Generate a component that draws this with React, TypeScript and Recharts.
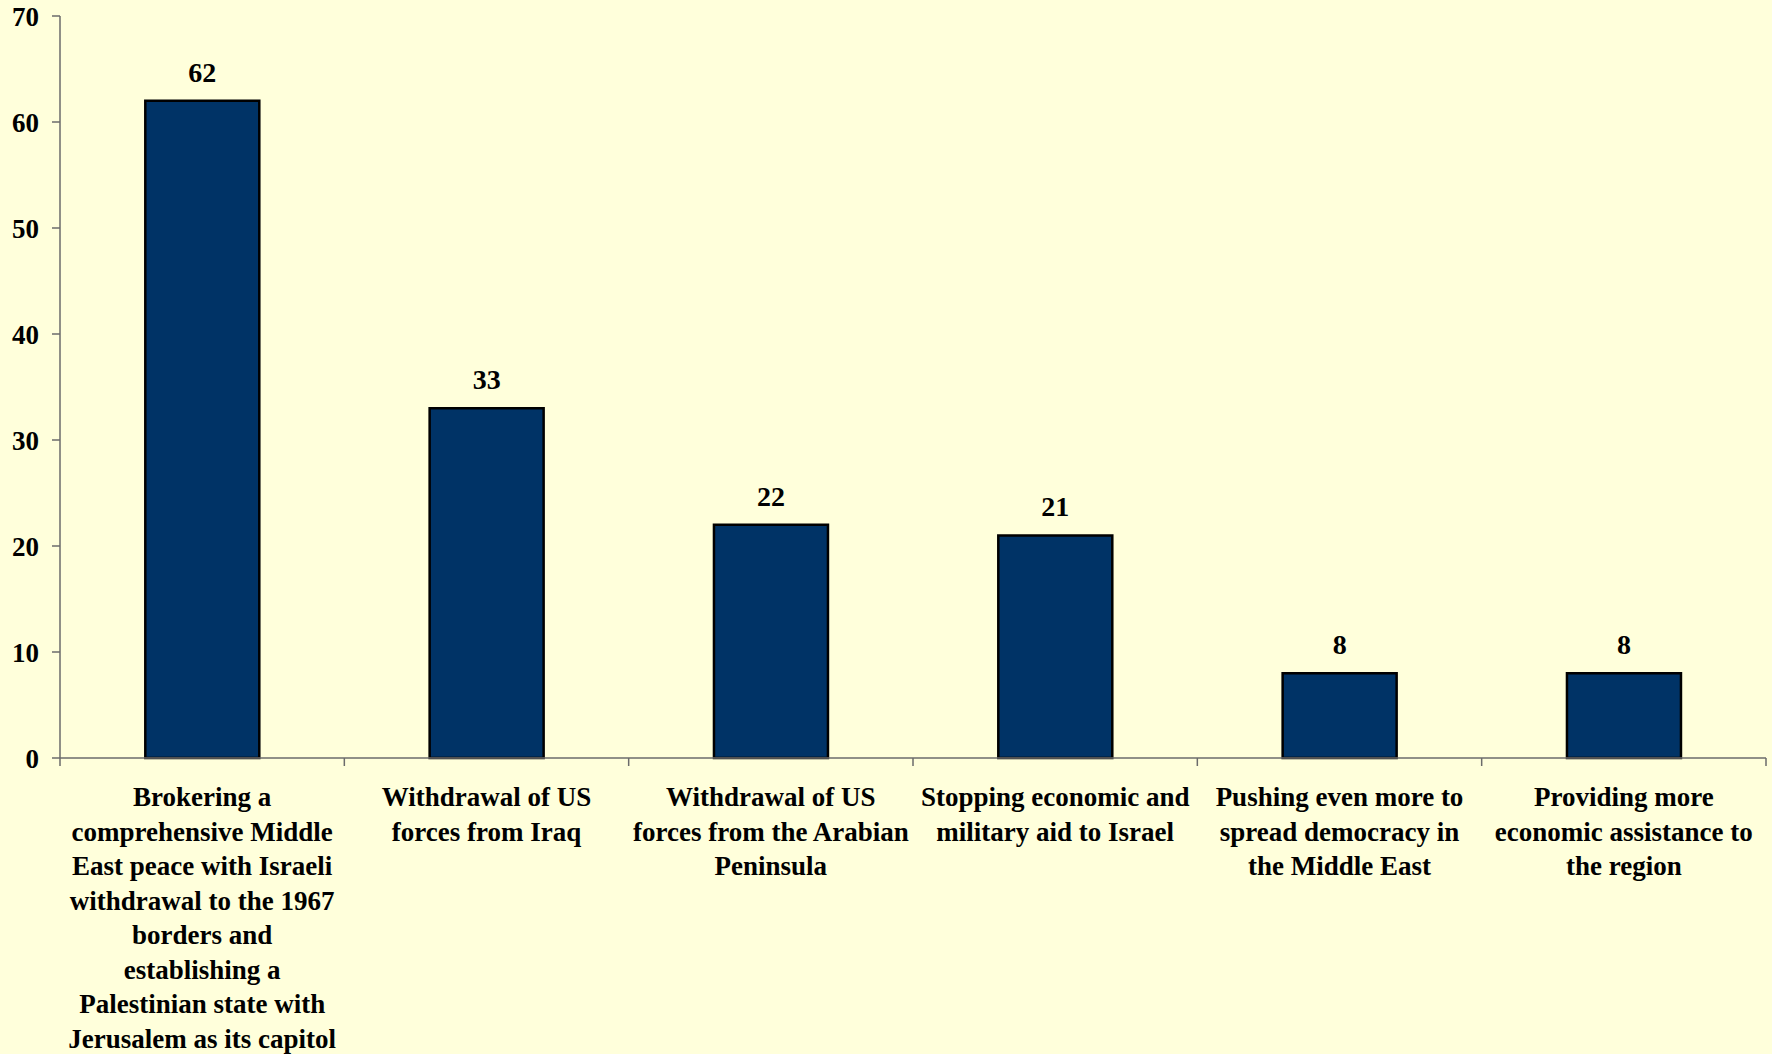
import React from 'react';
import { BarChart, Bar, XAxis, YAxis, LabelList } from 'recharts';

// categories (line breaks as in the original chart)
const categories = [
  'Brokering a\ncomprehensive Middle\nEast peace with Israeli\nwithdrawal to the 1967\nborders and\nestablishing a\nPalestinian state with\nJerusalem as its capitol',
  'Withdrawal of US\nforces from Iraq',
  'Withdrawal of US\nforces from the Arabian\nPeninsula',
  'Stopping economic and\nmilitary aid to Israel',
  'Pushing even more to\nspread democracy in\nthe Middle East',
  'Providing more\neconomic assistance to\nthe region',
];
const values = [62, 33, 22, 21, 8, 8];
const yTicks = [0, 10, 20, 30, 40, 50, 60, 70];

const FONT = '"Liberation Serif", "Times New Roman", serif';
const AXIS = '#6b6b6b';

const data = categories.map((name, i) => ({ name, value: values[i] }));

const CategoryTick = (props: any) => {
  const { x, y, payload, index } = props;
  const lines: string[] = String(payload.value).split('\n');
  const half = payload.offset || 0;
  const top = y - 8;
  return (
    <g>
      <line x1={x - half} x2={x - half} y1={top} y2={top + 8} stroke={AXIS} strokeWidth={1.5} />
      {index === categories.length - 1 && (
        <line x1={x + half} x2={x + half} y1={top} y2={top + 8} stroke={AXIS} strokeWidth={1.5} />
      )}
      <text
        x={x}
        y={y}
        textAnchor="middle"
        fontFamily={FONT}
        fontWeight="bold"
        fontSize={27}
        fill="#000"
      >
        {lines.map((l, i) => (
          <tspan key={i} x={x} dy={i === 0 ? 40 : 34.5}>
            {l}
          </tspan>
        ))}
      </text>
    </g>
  );
};

export default function App() {
  return (
    <div style={{ position: 'absolute', left: 0, top: 0, width: 1772, height: 1054, background: '#FFFFDB' }}>
      <BarChart
        width={1772}
        height={1054}
        data={data}
        margin={{ top: 16, right: 6, left: 0, bottom: 0 }}
        barCategoryGap="30%"
      >
        <XAxis
          dataKey="name"
          interval={0}
          height={296}
          tickSize={8}
          tickMargin={0}
          tickLine={{ stroke: 'none' }}
          axisLine={{ stroke: AXIS, strokeWidth: 1.5 }}
          tick={<CategoryTick />}
        />
        <YAxis
          width={60}
          domain={[0, 70]}
          ticks={yTicks}
          interval={0}
          tickSize={8}
          tickMargin={13}
          axisLine={{ stroke: AXIS, strokeWidth: 1.5 }}
          tickLine={{ stroke: AXIS, strokeWidth: 1.5 }}
          tick={{ fontFamily: FONT, fontWeight: 'bold', fontSize: 27, fill: '#000' }}
        />
        <Bar dataKey="value" fill="#003366" stroke="#000" strokeWidth={2.5} isAnimationActive={false}>
          <LabelList
            dataKey="value"
            position="top"
            offset={19}
            style={{ fontFamily: FONT, fontWeight: 'bold', fontSize: 28, fill: '#000' }}
          />
        </Bar>
      </BarChart>
    </div>
  );
}
